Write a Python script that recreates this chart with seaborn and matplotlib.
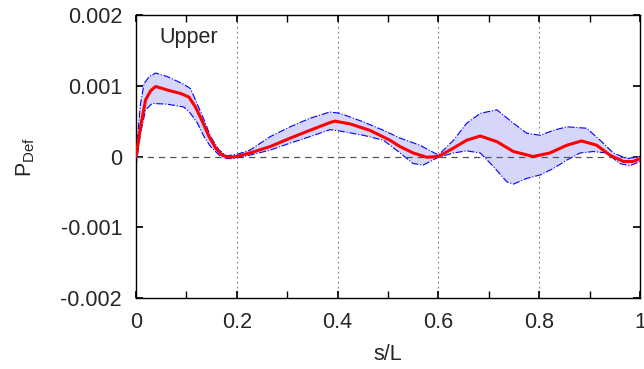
import numpy as np
import pandas as pd
import seaborn as sns
import matplotlib
matplotlib.use("Agg")
import matplotlib.pyplot as plt
from matplotlib.ticker import MultipleLocator

# values, P_Def in units of 1e-3
mean_s = [0.0, 0.009, 0.019, 0.029, 0.039, 0.062, 0.089, 0.105, 0.118, 0.132,
          0.145, 0.158, 0.171, 0.182, 0.2, 0.226, 0.266, 0.306, 0.345, 0.385,
          0.395, 0.425, 0.464, 0.504, 0.524, 0.55, 0.577, 0.6, 0.63, 0.656,
          0.683, 0.716, 0.749, 0.788, 0.821, 0.855, 0.884, 0.914, 0.94, 0.967,
          0.986, 1.0]
mean_p = [0.0, 0.42, 0.80, 0.93, 0.99, 0.94, 0.89, 0.84, 0.70, 0.49,
          0.28, 0.12, 0.02, -0.01, 0.0, 0.05, 0.14, 0.26, 0.37, 0.48,
          0.50, 0.46, 0.37, 0.23, 0.14, 0.05, -0.01, 0.0, 0.12, 0.23,
          0.29, 0.21, 0.07, 0.0, 0.05, 0.16, 0.22, 0.16, 0.02, -0.07,
          -0.07, -0.03]

upper_s = [0.0, 0.009, 0.016, 0.026, 0.039, 0.062, 0.095, 0.108, 0.121, 0.135,
           0.148, 0.165, 0.18, 0.2, 0.226, 0.266, 0.306, 0.345, 0.385, 0.405,
           0.451, 0.491, 0.524, 0.563, 0.6, 0.63, 0.656, 0.683, 0.716, 0.749,
           0.775, 0.802, 0.828, 0.855, 0.894, 0.921, 0.947, 0.974, 1.0]
upper_p = [0.05, 0.75, 1.03, 1.13, 1.18, 1.13, 1.02, 0.96, 0.75, 0.52,
           0.28, 0.09, 0.01, 0.03, 0.09, 0.28, 0.42, 0.54, 0.63, 0.61,
           0.49, 0.37, 0.26, 0.16, 0.02, 0.23, 0.47, 0.61, 0.66, 0.47,
           0.33, 0.30, 0.37, 0.42, 0.40, 0.23, 0.05, -0.03, 0.0]

lower_s = [0.0, 0.009, 0.019, 0.032, 0.062, 0.095, 0.108, 0.122, 0.135, 0.148,
           0.165, 0.18, 0.193, 0.226, 0.266, 0.306, 0.345, 0.385, 0.405, 0.451,
           0.491, 0.524, 0.55, 0.57, 0.6, 0.63, 0.656, 0.683, 0.709, 0.736,
           0.749, 0.775, 0.802, 0.828, 0.855, 0.881, 0.907, 0.934, 0.96, 0.98,
           1.0]
lower_p = [-0.14, 0.33, 0.66, 0.75, 0.74, 0.70, 0.61, 0.47, 0.28, 0.14,
           0.02, -0.03, -0.03, 0.02, 0.09, 0.19, 0.28, 0.38, 0.36, 0.30,
           0.23, 0.05, -0.10, -0.12, -0.01, 0.05, 0.08, 0.05, -0.14, -0.36,
           -0.39, -0.31, -0.26, -0.17, -0.05, 0.05, 0.07, 0.05, -0.10, -0.13,
           -0.07]

x_ticks = [0, 0.2, 0.4, 0.6, 0.8, 1.0]
x_labels = ["0", "0.2", "0.4", "0.6", "0.8", "1"]
y_ticks = [-0.002, -0.001, 0, 0.001, 0.002]
y_labels = ["-0.002", "-0.001", "0", "0.001", "0.002"]

mean_df = pd.DataFrame({"s": mean_s, "p": np.array(mean_p) * 1e-3})
upper_df = pd.DataFrame({"s": upper_s, "p": np.array(upper_p) * 1e-3})
lower_df = pd.DataFrame({"s": lower_s, "p": np.array(lower_p) * 1e-3})

sns.set_theme(style="ticks")
plt.rcParams['font.family'] = ['Liberation Sans', 'DejaVu Sans']
plt.rcParams['mathtext.default'] = 'regular'

fig = plt.figure(figsize=(6.44, 3.69), dpi=100)
ax = fig.add_axes([0.2112, 0.1924, 0.7826, 0.7669])

# shaded band between upper and lower curves
band_x = np.concatenate([upper_df["s"], lower_df["s"][::-1]])
band_y = np.concatenate([upper_df["p"], lower_df["p"][::-1]])
ax.fill(band_x, band_y, color="#d6d6fb", lw=0, zorder=1)

sns.lineplot(data=upper_df, x="s", y="p", ax=ax, color="blue", lw=0.8,
             linestyle="-.", zorder=2)
sns.lineplot(data=lower_df, x="s", y="p", ax=ax, color="blue", lw=0.8,
             linestyle="-.", zorder=2)
sns.lineplot(data=mean_df, x="s", y="p", ax=ax, color="red", lw=2.2, zorder=3)

ax.axhline(0, color="#555555", lw=0.9, linestyle=(0, (5, 4)), zorder=1.5)
for xv in x_ticks[1:-1]:
    ax.axvline(xv, color="#777777", lw=0.8, linestyle=(0, (1.5, 3)), zorder=0.5)

ax.set_xlim(0, 1)
ax.set_ylim(-0.002, 0.002)
ax.set_xticks(x_ticks)
ax.set_xticklabels(x_labels)
ax.xaxis.set_minor_locator(MultipleLocator(0.1))
ax.set_yticks(y_ticks)
ax.set_yticklabels(y_labels)
ax.tick_params(which="both", direction="in", top=True, right=True,
               labelsize=15.5, color="black", length=5)
ax.tick_params(axis="x", pad=10)
ax.tick_params(axis="y", pad=10)
for sp in ax.spines.values():
    sp.set_color("black")
    sp.set_linewidth(1.0)

ax.set_xlabel("s/L", fontsize=15.5, labelpad=8)
ax.set_ylabel(r"$P_{Def}$", fontsize=15.5, labelpad=17)
ax.text(0.046, 0.00168, "Upper", fontsize=15.5, ha="left", va="center")

fig.savefig("out.png", dpi=100)
